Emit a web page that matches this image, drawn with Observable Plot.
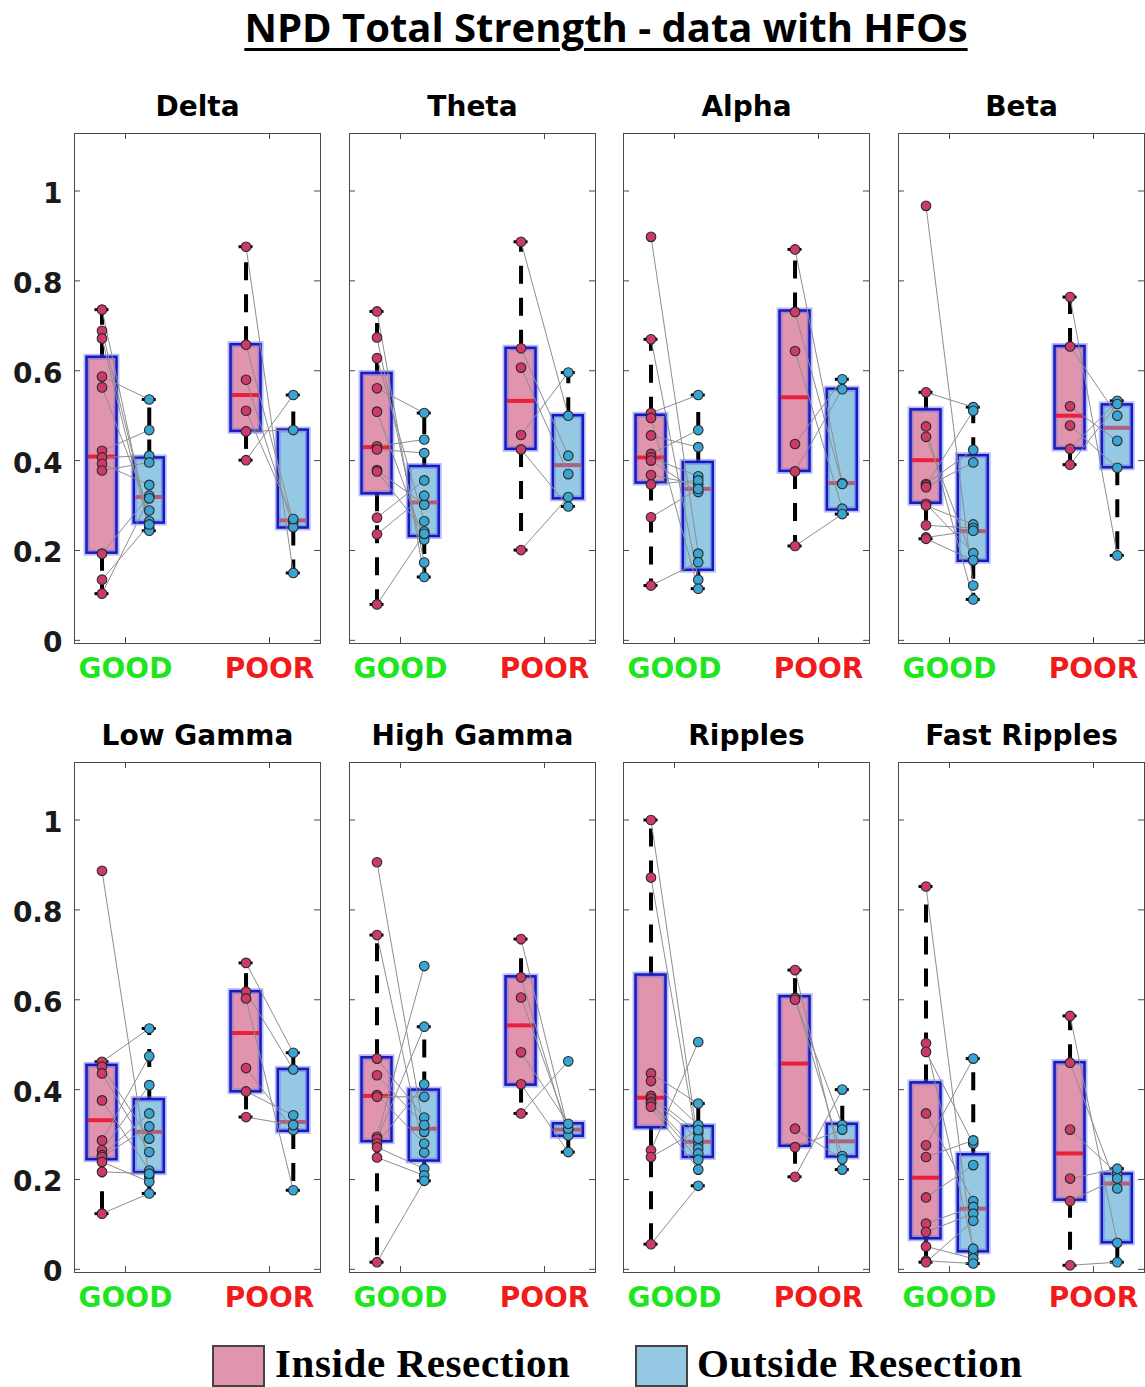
<!DOCTYPE html>
<html><head><meta charset="utf-8">
<script src="https://cdn.jsdelivr.net/npm/d3@7"></script>
<script src="https://cdn.jsdelivr.net/npm/@observablehq/plot@0.6"></script>
<style>
body{margin:0;background:#fff;}
#root{position:relative;width:1145px;height:1387px;overflow:hidden;background:#fff;}
.panel{position:absolute;}
#title{position:absolute;left:67px;width:1078px;top:7px;text-align:center;font-family:"Open Sans",sans-serif;font-weight:bold;font-size:40px;line-height:40px;color:#000;text-decoration:underline;text-decoration-thickness:3px;text-underline-offset:6px;white-space:nowrap;}
.lgbox{position:absolute;top:1345px;width:53px;height:42px;border:2px solid #444;box-sizing:border-box;}
.lgtext{position:absolute;top:1345px;font-family:"Liberation Serif",serif;font-weight:bold;font-size:41px;line-height:36px;letter-spacing:0.6px;color:#000;white-space:nowrap;}
</style></head><body>
<div id="root"></div>
<script>
// ---- data ----
const bands = ["Delta","Theta","Alpha","Beta","Low Gamma","High Gamma","Ripples","Fast Ripples"];
const groups = ["GOOD","POOR"];
const yTicks = [0, 0.2, 0.4, 0.6, 0.8, 1];
const legendLabels = ["Inside Resection","Outside Resection"];

// paired values: inside[i] is linked to outside[i]
const goodInside = [
  [0.736,0.689,0.672,0.587,0.563,0.422,0.407,0.393,0.378,0.193,0.135,0.104],
  [0.732,0.674,0.628,0.561,0.509,0.432,0.425,0.379,0.376,0.273,0.236,0.080],
  [0.898,0.670,0.506,0.495,0.456,0.415,0.407,0.400,0.368,0.347,0.274,0.122],
  [0.967,0.552,0.476,0.453,0.348,0.345,0.341,0.304,0.300,0.256,0.229,0.226],
  [0.887,0.462,0.451,0.436,0.376,0.287,0.265,0.254,0.250,0.239,0.217,0.124],
  [0.906,0.744,0.469,0.432,0.388,0.384,0.295,0.290,0.280,0.272,0.249,0.016],
  [1.000,0.872,0.436,0.419,0.386,0.380,0.373,0.369,0.362,0.265,0.250,0.056],
  [0.852,0.503,0.484,0.347,0.276,0.250,0.160,0.102,0.083,0.051,0.019,0.016]
];
const goodOutside = [
  [0.250,0.265,0.244,0.536,0.289,0.468,0.411,0.346,0.396,0.322,0.258,0.316],
  [0.141,0.173,0.265,0.506,0.224,0.447,0.417,0.302,0.242,0.356,0.322,0.237],
  [0.193,0.135,0.546,0.115,0.430,0.468,0.365,0.330,0.347,0.356,0.337,0.174],
  [0.122,0.519,0.091,0.178,0.424,0.511,0.396,0.194,0.258,0.250,0.244,0.178],
  [0.206,0.536,0.291,0.261,0.220,0.474,0.410,0.347,0.318,0.195,0.213,0.169],
  [0.306,0.260,0.338,0.321,0.280,0.384,0.675,0.540,0.412,0.224,0.209,0.197],
  [0.280,0.269,0.369,0.321,0.304,0.291,0.258,0.244,0.222,0.506,0.310,0.186],
  [0.035,0.046,0.280,0.152,0.469,0.287,0.232,0.139,0.124,0.024,0.013,0.108]
];
const poorInside = [
  [0.876,0.658,0.580,0.511,0.465,0.401],
  [0.887,0.650,0.607,0.457,0.425,0.201],
  [0.870,0.731,0.644,0.437,0.376,0.210],
  [0.764,0.654,0.521,0.478,0.426,0.391],
  [0.682,0.618,0.603,0.448,0.396,0.339],
  [0.735,0.650,0.605,0.483,0.412,0.347],
  [0.666,0.604,0.600,0.313,0.272,0.206],
  [0.564,0.460,0.311,0.202,0.152,0.009]
];
const poorOutside = [
  [0.150,0.263,0.252,0.270,0.468,0.546],
  [0.500,0.411,0.370,0.596,0.298,0.319],
  [0.350,0.348,0.293,0.581,0.559,0.281],
  [0.189,0.500,0.444,0.384,0.533,0.526],
  [0.482,0.445,0.176,0.310,0.343,0.321],
  [0.310,0.298,0.313,0.324,0.261,0.463],
  [0.222,0.252,0.321,0.245,0.311,0.400],
  [0.059,0.180,0.213,0.224,0.202,0.016]
];
// box statistics: [lower whisker, q1, median, q3, upper whisker]
const goodInsideBox = [
  [0.104,0.194,0.409,0.630,0.736],[0.080,0.326,0.430,0.594,0.732],
  [0.122,0.350,0.407,0.501,0.670],[0.226,0.305,0.401,0.513,0.552],
  [0.124,0.244,0.332,0.454,0.462],[0.016,0.284,0.386,0.471,0.744],
  [0.056,0.315,0.382,0.655,1.000],[0.016,0.068,0.204,0.415,0.852]
];
const goodOutsideBox = [
  [0.244,0.261,0.319,0.406,0.536],[0.141,0.231,0.307,0.387,0.506],
  [0.115,0.156,0.337,0.396,0.546],[0.091,0.176,0.243,0.411,0.519],
  [0.169,0.215,0.306,0.378,0.536],[0.197,0.241,0.313,0.399,0.540],
  [0.186,0.249,0.284,0.318,0.369],[0.013,0.039,0.135,0.255,0.469]
];
const poorInsideBox = [
  [0.401,0.465,0.546,0.658,0.876],[0.201,0.425,0.533,0.650,0.887],
  [0.210,0.376,0.541,0.733,0.870],[0.391,0.426,0.500,0.654,0.764],
  [0.339,0.395,0.526,0.618,0.682],[0.347,0.410,0.543,0.651,0.735],
  [0.206,0.274,0.458,0.607,0.666],[0.009,0.154,0.258,0.460,0.564]
];
const poorOutsideBox = [
  [0.150,0.250,0.267,0.468,0.546],[0.298,0.315,0.390,0.500,0.596],
  [0.281,0.290,0.350,0.559,0.581],[0.189,0.384,0.473,0.524,0.533],
  [0.176,0.307,0.328,0.445,0.482],[0.261,0.296,0.311,0.324,0.324],
  [0.222,0.250,0.285,0.323,0.400],[0.016,0.059,0.191,0.212,0.224]
];

// ---- styling ----
const C = {
  inFill: "#e094ae", outFill: "#95c9e3",
  inDot: "#cc3a68", outDot: "#3aa4d2",
  inMed: "#e8203c", outMed: "#b05e7e",
  boxStroke: "#1a1ab8", halo: "#5a6cff",
  good: "#1ee61e", poor: "#f01c1c", link: "#8e8e8e", frame: "#4a4a4a"
};
const FRAME_W = 246, FRAME_H = 510;
const frameLeft = [74, 349, 623, 898];
const frameTop = [133, 762];
const ML = 74, MR = 6, MT = 60, MB = 50;
const xDomain = [0.646, 2.354];
const yDomain = [-0.007, 1.128];
const pxX = FRAME_W / (xDomain[1] - xDomain[0]);
const pxY = FRAME_H / (yDomain[1] - yDomain[0]);
const OFF_IN = -0.163, OFF_OUT = 0.165, HW = 15 / pxX, CAPW = 7 / pxX;
const tickFmt = d => String(+d.toFixed(1));

const root = document.getElementById("root");
const title = document.createElement("div");
title.id = "title";
title.textContent = "NPD Total Strength - data with HFOs";
root.appendChild(title);

function panel(k) {
  const col = k % 4, row = Math.floor(k / 4);
  const boxes = [], dots = [], links = [];
  const sets = [
    {g: 1, inV: goodInside[k], outV: goodOutside[k], inB: goodInsideBox[k], outB: goodOutsideBox[k]},
    {g: 2, inV: poorInside[k], outV: poorOutside[k], inB: poorInsideBox[k], outB: poorOutsideBox[k]}
  ];
  for (const s of sets) {
    const pin = s.g + OFF_IN, pout = s.g + OFF_OUT;
    for (const [pos, b, fill, med] of [[pin, s.inB, C.inFill, C.inMed], [pout, s.outB, C.outFill, C.outMed]]) {
      boxes.push({pos, lo: b[0], q1: b[1], med: b[2], q3: b[3], hi: b[4], fill, medColor: med});
    }
    s.inV.forEach((v, i) => {
      links.push({x1: pin, y1: v, x2: pout, y2: s.outV[i]});
      dots.push({x: pin, y: v, c: C.inDot});
      dots.push({x: pout, y: s.outV[i], c: C.outDot});
    });
  }
  const labels = groups.map((g, i) => ({x: i + 1, label: g, c: i === 0 ? C.good : C.poor}));
  const x0 = xDomain[0], x1 = xDomain[1], y0 = yDomain[0], y1 = yDomain[1];
  const tl = 6;
  const marks = [
    // whiskers
    Plot.ruleX(boxes, {x: "pos", y1: "q3", y2: "hi", stroke: "#000", strokeWidth: 4, strokeDasharray: "18,14"}),
    Plot.ruleX(boxes, {x: "pos", y1: "q1", y2: "lo", stroke: "#000", strokeWidth: 4, strokeDasharray: "18,14"}),
    Plot.ruleY(boxes, {y: "hi", x1: d => d.pos - CAPW, x2: d => d.pos + CAPW, stroke: "#000", strokeWidth: 3}),
    Plot.ruleY(boxes, {y: "lo", x1: d => d.pos - CAPW, x2: d => d.pos + CAPW, stroke: "#000", strokeWidth: 3}),
    // boxes
    Plot.rect(boxes, {x1: d => d.pos - HW, x2: d => d.pos + HW, y1: "q1", y2: "q3", fill: "fill", stroke: C.halo, strokeWidth: 6, strokeOpacity: 0.45}),
    Plot.rect(boxes, {x1: d => d.pos - HW, x2: d => d.pos + HW, y1: "q1", y2: "q3", stroke: C.boxStroke, strokeWidth: 2.5}),
    Plot.ruleY(boxes, {y: "med", x1: d => d.pos - HW + 1.5 / pxX, x2: d => d.pos + HW - 1.5 / pxX, stroke: "medColor", strokeWidth: 4}),
    // pairing lines
    Plot.link(links, {x1: "x1", y1: "y1", x2: "x2", y2: "y2", stroke: C.link, strokeWidth: 1}),
    // points
    Plot.dot(dots, {x: "x", y: "y", r: 4.8, fill: "c", stroke: "#2a2a2a", strokeWidth: 1.1}),
    // frame and inward ticks
    Plot.frame({stroke: C.frame, strokeWidth: 1}),
    Plot.ruleY(yTicks, {y: d => d, x1: x0, x2: x0 + tl / pxX, stroke: C.frame}),
    Plot.ruleY(yTicks, {y: d => d, x1: x1, x2: x1 - tl / pxX, stroke: C.frame}),
    Plot.ruleX([1, 2], {x: d => d, y1: y0, y2: y0 + tl / pxY, stroke: C.frame}),
    Plot.ruleX([1, 2], {x: d => d, y1: y1, y2: y1 - tl / pxY, stroke: C.frame}),
    // group labels
    Plot.text(labels, {x: "x", text: "label", fill: "c", frameAnchor: "bottom", dy: 34, fontSize: 28, fontWeight: "bold"}),
    // panel title
    Plot.text([bands[k]], {text: d => d, frameAnchor: "top", dy: -37, fontSize: 28, fontWeight: "bold", fill: "#000"})
  ];
  if (col === 0) {
    marks.push(Plot.text(yTicks, {y: d => d, text: tickFmt, frameAnchor: "left", dx: -12, dy: 3, textAnchor: "end", fontSize: 28, fontWeight: "bold", fill: "#1a1a1a"}));
  }
  const svg = Plot.plot({
    width: ML + FRAME_W + MR, height: MT + FRAME_H + MB,
    marginLeft: ML, marginRight: MR, marginTop: MT, marginBottom: MB,
    x: {domain: xDomain, axis: null},
    y: {domain: yDomain, axis: null},
    color: {type: "identity"},
    style: {background: "transparent", overflow: "visible", fontFamily: "DejaVu Sans"},
    marks
  });
  svg.classList.add("panel");
  svg.style.left = (frameLeft[col] - ML) + "px";
  svg.style.top = (frameTop[row] - MT) + "px";
  root.appendChild(svg);
}
for (let k = 0; k < bands.length; k++) panel(k);

// legend
const lg = [{left: 212, fill: C.inFill, tx: 275}, {left: 635, fill: C.outFill, tx: 697}];
lg.forEach((d, i) => {
  const b = document.createElement("div");
  b.className = "lgbox"; b.style.left = d.left + "px"; b.style.background = d.fill;
  root.appendChild(b);
  const t = document.createElement("div");
  t.className = "lgtext"; t.style.left = d.tx + "px"; t.textContent = legendLabels[i];
  root.appendChild(t);
});
</script>
</body></html>
